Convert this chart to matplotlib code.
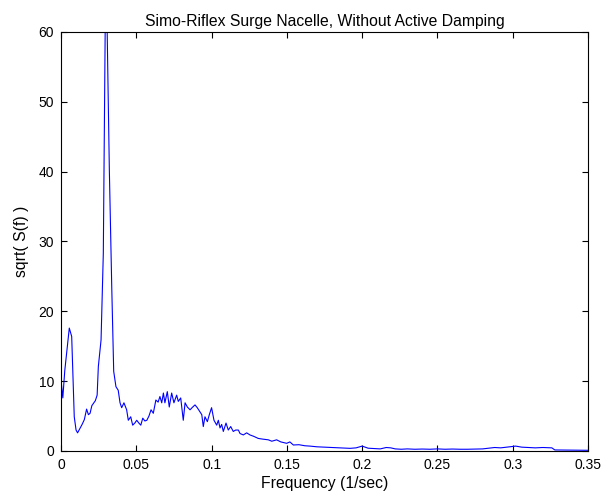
import matplotlib
matplotlib.use('Agg')
import matplotlib.pyplot as plt

# spectrum
freq = [0.0, 0.0012, 0.0025, 0.0040, 0.0055, 0.0071, 0.0088, 0.0100, 0.0110, 0.0125,
        0.0140, 0.0155, 0.0170, 0.0182, 0.0193, 0.0205, 0.0215, 0.0228, 0.0240, 0.0248,
        0.0266, 0.0281, 0.0298, 0.0321, 0.0337, 0.0350, 0.0365, 0.0380, 0.0392, 0.0403,
        0.0418, 0.0436, 0.0447, 0.0463, 0.0476, 0.0490, 0.0503, 0.0517, 0.0530, 0.0543,
        0.0557, 0.0570, 0.0584, 0.0598, 0.0613, 0.0630, 0.0645, 0.0657, 0.0669, 0.0680,
        0.0690, 0.0706, 0.0719, 0.0735, 0.0750, 0.0768, 0.0779, 0.0795, 0.0812, 0.0824,
        0.0839, 0.0857, 0.0875, 0.0890, 0.0905, 0.0923, 0.0935, 0.0945, 0.0956, 0.0972,
        0.0985, 0.1000, 0.1016, 0.1034, 0.1045, 0.1056, 0.1067, 0.1078, 0.1096, 0.1111,
        0.1127, 0.1144, 0.1160, 0.1178, 0.1189, 0.1211, 0.1233, 0.1255, 0.1280, 0.1310,
        0.1340, 0.1377, 0.1400, 0.1432, 0.1460, 0.1499, 0.1520, 0.1543, 0.1580, 0.1620,
        0.1654, 0.1700, 0.1750, 0.1790, 0.1830, 0.1870, 0.1920, 0.1960, 0.2000, 0.2040,
        0.2080, 0.2120, 0.2160, 0.2190, 0.2220, 0.2260, 0.2300, 0.2350, 0.2400, 0.2450,
        0.2500, 0.2550, 0.2600, 0.2650, 0.2700, 0.2750, 0.2800, 0.2880, 0.2920, 0.2980,
        0.3020, 0.3060, 0.3100, 0.3150, 0.3200, 0.3260, 0.3280, 0.3400, 0.3500]
amp = [10.2, 7.6, 11.5, 14.5, 17.6, 16.4, 4.9, 3.0, 2.6, 3.2,
       3.8, 4.5, 6.0, 5.2, 5.4, 6.5, 6.8, 7.2, 8.0, 12.1,
       15.9, 28.3, 72.0, 40.3, 23.5, 11.4, 9.2, 8.7, 6.9, 6.2,
       6.9, 5.9, 4.4, 4.9, 3.7, 4.0, 4.4, 4.0, 3.7, 4.7,
       4.3, 4.4, 5.0, 5.9, 5.4, 7.3, 7.0, 7.8, 6.9, 8.3,
       6.9, 8.5, 6.3, 8.3, 6.9, 8.0, 7.1, 7.6, 4.4, 6.9,
       6.3, 5.9, 6.3, 6.6, 6.2, 5.6, 5.2, 3.5, 4.9, 4.2,
       5.2, 6.2, 4.4, 3.7, 4.4, 3.3, 3.8, 2.8, 4.0, 3.0,
       3.5, 2.8, 3.0, 3.0, 2.5, 2.3, 2.6, 2.3, 2.1, 1.8,
       1.7, 1.6, 1.4, 1.6, 1.3, 1.1, 1.3, 0.86, 0.9, 0.75,
       0.7, 0.6, 0.55, 0.5, 0.47, 0.42, 0.38, 0.45, 0.7, 0.4,
       0.35, 0.3, 0.5, 0.45, 0.3, 0.25, 0.3, 0.25, 0.28, 0.25,
       0.3, 0.25, 0.28, 0.25, 0.25, 0.28, 0.3, 0.5, 0.45, 0.6,
       0.7, 0.55, 0.5, 0.45, 0.5, 0.45, 0.15, 0.12, 0.1]

xticks = [0, 0.05, 0.1, 0.15, 0.2, 0.25, 0.3, 0.35]
xticklabels = ['0', '0.05', '0.1', '0.15', '0.2', '0.25', '0.3', '0.35']
yticks = [0, 10, 20, 30, 40, 50, 60]

plt.rcParams['font.family'] = ['Liberation Sans', 'DejaVu Sans']

fig = plt.figure(figsize=(6.04, 4.99), dpi=100)
ax = fig.add_axes([0.101, 0.0962, 0.8725, 0.8397])
ax.plot(freq, amp, color='#0000ff', linewidth=0.8)
ax.set_xlim(0, 0.35)
ax.set_ylim(0, 60)
ax.set_xticks(xticks)
ax.set_xticklabels(xticklabels)
ax.set_yticks(yticks)
ax.tick_params(direction='in', top=True, right=True, labelsize=10, length=4, width=0.8, pad=5)
for s in ax.spines.values():
    s.set_linewidth(0.8)
ax.set_title('Simo-Riflex Surge Nacelle, Without Active Damping', fontsize=11.3, pad=4)
ax.set_xlabel('Frequency (1/sec)', fontsize=11.3, labelpad=3)
ax.set_ylabel('sqrt( S(f) )', fontsize=11.3, labelpad=7)

fig.savefig('out.png', dpi=100)
